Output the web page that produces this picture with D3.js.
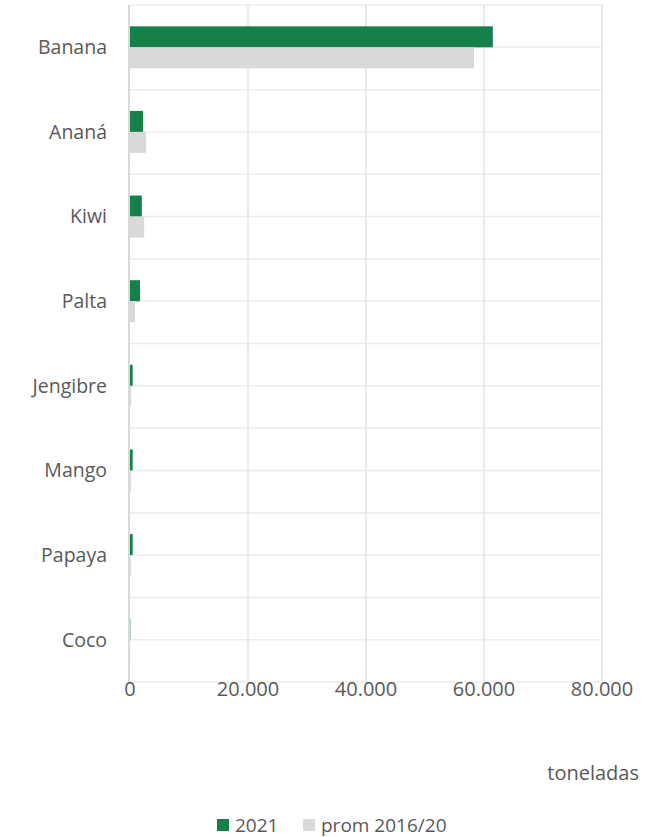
<!DOCTYPE html>
<html>
<head>
<meta charset="utf-8">
<script src="https://cdn.jsdelivr.net/npm/d3@7/dist/d3.min.js"></script>
<style type="text/css">
    body{ margin: 0; background: #fff; }
    text{ font-family: "Open Sans", sans-serif; fill: #595959; }
</style>
</head>
<body>
<script type="text/javascript">
var width = 664,
    height = 837;

var categories = ['Banana', 'Ananá', 'Kiwi', 'Palta', 'Jengibre', 'Mango', 'Papaya', 'Coco'];
var values2021 = [61500, 2200, 2000, 1700, 450, 450, 450, 60];
var valuesProm = [58300, 2700, 2400, 850, 200, 150, 150, 30];
var xTicks = [0, 20000, 40000, 60000, 80000];
var seriesNames = ['2021', 'prom 2016/20'];
var colors = ['#16804b', '#d9d9d9'];

var margin = {top: 5, left: 130, right: 62, bottom: 155};

var svg = d3.select('body')
    .append('svg')
        .attr('width', width)
        .attr('height', height);

var x = d3.scaleLinear()
    .domain([0, 80000])
    .range([margin.left, width - margin.right]);

var y = d3.scaleBand()
    .domain(categories)
    .range([margin.top, height - margin.bottom]);

// half-band gridlines
var gridY = [];
categories.forEach(function(c){
    gridY.push(y(c));
    gridY.push(y(c) + y.bandwidth() / 2);
});
gridY.push(y.range()[1]);

svg.append('g').selectAll('line')
    .data(gridY)
    .enter().append('line')
        .attr('x1', x(0)).attr('x2', x(80000))
        .attr('y1', function(d){ return d; })
        .attr('y2', function(d){ return d; })
        .attr('stroke', '#ececec')
        .attr('stroke-width', 1.5);

svg.append('g').selectAll('line')
    .data(xTicks.slice(1))
    .enter().append('line')
        .attr('x1', function(d){ return x(d); })
        .attr('x2', function(d){ return x(d); })
        .attr('y1', y.range()[0]).attr('y2', y.range()[1])
        .attr('stroke', '#e3e3e3')
        .attr('stroke-width', 1.5);

// zero axis line
svg.append('line')
    .attr('x1', x(0) - 1).attr('x2', x(0) - 1)
    .attr('y1', y.range()[0]).attr('y2', y.range()[1])
    .attr('stroke', '#d9d9d9')
    .attr('stroke-width', 2);

var barH = 21;

var rows = categories.map(function(c, i){
    return {cat: c, v: [values2021[i], valuesProm[i]]};
});

var groups = svg.append('g').selectAll('g')
    .data(rows)
    .enter().append('g');

groups.selectAll('rect')
    .data(function(d){ return d.v; })
    .enter().append('rect')
        .attr('x', x(0))
        .attr('y', function(d, i){
            var r = d3.select(this.parentNode).datum();
            var mid = y(r.cat) + y.bandwidth() / 2;
            return i === 0 ? mid - barH : mid;
        })
        .attr('width', function(d){ return Math.max(x(d) - x(0), 0); })
        .attr('height', barH)
        .attr('fill', function(d, i){ return colors[i]; });

// category labels
svg.append('g').selectAll('text')
    .data(categories)
    .enter().append('text')
        .attr('x', 107)
        .attr('y', function(d){ return y(d) + y.bandwidth() / 2; })
        .attr('dy', '0.35em')
        .attr('text-anchor', 'end')
        .attr('font-size', 19.5)
        .text(function(d){ return d; });

var fmt = function(d){ return d3.format(',')(d).replace(/,/g, '.'); };

svg.append('g').selectAll('text')
    .data(xTicks)
    .enter().append('text')
        .attr('x', function(d){ return x(d); })
        .attr('y', 689)
        .attr('dy', '0.35em')
        .attr('text-anchor', 'middle')
        .attr('font-size', 20)
        .text(fmt);

svg.append('text')
    .attr('x', 639)
    .attr('y', 773)
    .attr('dy', '0.35em')
    .attr('text-anchor', 'end')
    .attr('font-size', 20)
    .text('toneladas');

// legend
var legend = svg.append('g');
var legX = [217, 303];
seriesNames.forEach(function(n, i){
    legend.append('rect')
        .attr('x', legX[i]).attr('y', 819)
        .attr('width', 12).attr('height', 12)
        .attr('fill', colors[i]);
    legend.append('text')
        .attr('x', legX[i] + 18)
        .attr('y', 825)
        .attr('dy', '0.35em')
        .attr('font-size', 19)
        .text(n);
});
</script>
</body>
</html>
